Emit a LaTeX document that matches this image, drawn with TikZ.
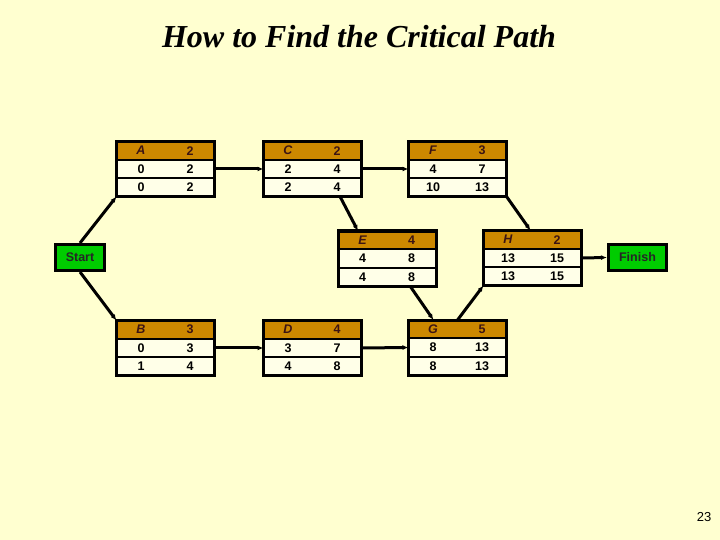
\documentclass[tikz,border=0pt]{standalone}
\usepackage{fontspec}
\setmainfont{Liberation Sans}
\newfontfamily\titlefont{Liberation Serif}
\usetikzlibrary{calc,arrows.meta}
\definecolor{bgcol}{RGB}{255,255,208}
\definecolor{cellcol}{RGB}{255,255,232}
\definecolor{hdrcol}{RGB}{204,136,0}
\definecolor{hdrtxt}{RGB}{60,20,20}
\definecolor{greencol}{RGB}{0,204,0}
\tikzset{
  rowbox/.style={draw, line width=2pt, minimum width=98pt, minimum height=18.33pt, inner sep=0pt, outer sep=0pt, fill=cellcol},
  outerbox/.style={minimum width=98pt, minimum height=55pt, inner sep=0pt, outer sep=0pt},
  celltxt/.style={font=\fontsize{12.5}{14}\selectfont\bfseries, inner sep=0pt},
  hdrletter/.style={font=\fontsize{12.5}{14}\selectfont\bfseries\itshape, text=hdrtxt, inner sep=0pt},
  hdrnum/.style={font=\fontsize{12.5}{14}\selectfont\bfseries, text=hdrtxt, inner sep=0pt},
  endbox/.style={draw, line width=3pt, fill=greencol, inner sep=0pt, minimum height=26pt, font=\fontsize{12.5}{14}\selectfont\bfseries, text=black!85},
  conn/.style={line width=3pt, -{Latex[length=6pt,width=5pt]}},
}
\newcommand\actbox[9]{%
  \node[outerbox] (#1) at (#2,#3) {};
  \node[rowbox, fill=hdrcol, anchor=north] (#1-1) at (#1.north) {};
  \node[rowbox, anchor=north] (#1-2) at (#1-1.south) {};
  \node[rowbox, anchor=north] (#1-3) at (#1-2.south) {};
  \draw[line width=3pt] (#1.north west) rectangle (#1.south east);
  \node[hdrletter] (#1-1a) at ($(#1-1.west)!0.25!(#1-1.east)$) {#4};
  \node[hdrnum] (#1-1b) at ($(#1-1.west)!0.75!(#1-1.east)$) {#5};
  \node[celltxt] (#1-2a) at ($(#1-2.west)!0.25!(#1-2.east)$) {#6};
  \node[celltxt] (#1-2b) at ($(#1-2.west)!0.75!(#1-2.east)$) {#7};
  \node[celltxt] (#1-3a) at ($(#1-3.west)!0.25!(#1-3.east)$) {#8};
  \node[celltxt] (#1-3b) at ($(#1-3.west)!0.75!(#1-3.east)$) {#9};
}
\begin{document}
\begin{tikzpicture}[x=1pt,y=-1pt]
  \fill[bgcol] (0,0) rectangle (720,540);
  \useasboundingbox (0,0) rectangle (720,540);
  \node[font=\titlefont\fontsize{32}{35}\selectfont\bfseries\itshape] (title) at (359,37) {How to Find the Critical Path};
  \node[font=\fontsize{13}{15}\selectfont] (pagenum) at (704,517) {23};

  \actbox{A}{165.5}{169}{A}{2}{0}{2}{0}{2}
  \actbox{C}{312.5}{169}{C}{2}{2}{4}{2}{4}
  \actbox{F}{457.5}{169}{F}{3}{4}{7}{10}{13}
  \actbox{E}{387}{258.5}{E}{4}{4}{8}{4}{8}
  \actbox{H}{532.5}{258}{H}{2}{13}{15}{13}{15}
  \actbox{B}{165.5}{348}{B}{3}{0}{3}{1}{4}
  \actbox{D}{312.5}{348}{D}{4}{3}{7}{4}{8}
  \actbox{G}{457.5}{347.5}{G}{5}{8}{13}{8}{13}

  \node[endbox, minimum width=49pt] (start) at (80,257.5) {Start};
  \node[endbox, minimum width=58pt] (finish) at (637.5,257.5) {Finish};

  \draw[conn] (start.north) -- (A.south west);
  \draw[conn] (start.south) -- (B.north west);
  \draw[conn] (A-2.east) -- (C-2.west);
  \draw[conn] (B-2.east) -- (D-2.west);
  \draw[conn] ($(C.south)+(27.5,0)$) -- ($(E.north)+(-29,0)$);
  \draw[conn] (C-2.east) -- (F-2.west);
  \draw[conn] (F.south east) -- ($(H.north)+(-2,0)$);
  \draw[conn] (D-2.east) -- (G-2.west);
  \draw[conn] ($(E.south)+(23,0)$) -- ($(G.north)+(-24,0)$);
  \draw[conn] (G.north) -- (H.south west);
  \draw[conn] (H-2.east) -- (finish.west);
\end{tikzpicture}
\end{document}
